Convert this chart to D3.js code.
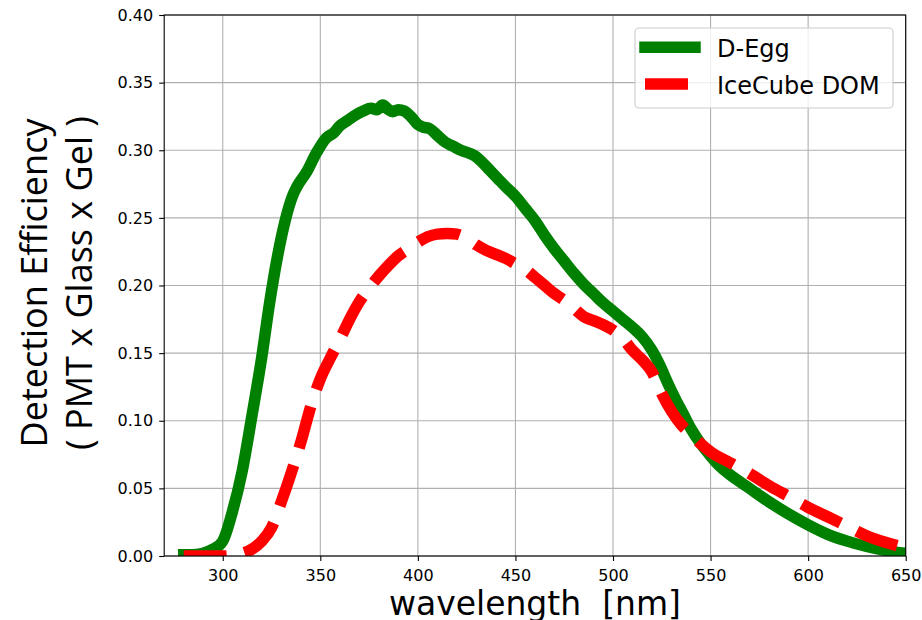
<!DOCTYPE html>
<html>
<head>
<meta charset="utf-8">
<script src="https://cdn.jsdelivr.net/npm/d3@7"></script>
<style>
  html, body { margin: 0; padding: 0; background: #fff; }
  svg { display: block; }
</style>
</head>
<body>
<svg id="chart" width="922" height="620"></svg>
<script>
// ---- data ----
const dEggWavelength = [280,285,290,295,300,305,310,315,320,324,328,332,336,338,343,348,353,357,360,364,368,372,376,379,382,385,387,390,393,397,400,403,406,410,414,418,422,426,429,433,437,441,445,450,455,460,465,470,475,480,485,490,495,500,505,510,515,520,524,528,532,536,540,545,550,555,560,570,580,590,600,610,620,630,640,650];
const dEggEfficiency = [0.001,0.001,0.002,0.005,0.011,0.033,0.063,0.104,0.147,0.187,0.221,0.248,0.267,0.273,0.284,0.298,0.309,0.313,0.318,0.322,0.326,0.329,0.331,0.330,0.3335,0.330,0.3285,0.330,0.329,0.324,0.319,0.317,0.316,0.311,0.306,0.303,0.300,0.298,0.296,0.291,0.285,0.279,0.273,0.266,0.257,0.248,0.237,0.227,0.218,0.209,0.201,0.194,0.187,0.181,0.175,0.169,0.162,0.152,0.141,0.128,0.116,0.105,0.094,0.083,0.074,0.066,0.060,0.050,0.040,0.031,0.023,0.016,0.011,0.007,0.004,0.002];

const domWavelength = [280,290,300,305,310,315,320,325,330,335,340,345,350,355,360,365,370,375,380,385,390,395,400,405,410,415,420,425,430,435,440,445,450,455,460,465,470,475,480,485,490,495,500,505,510,515,520,525,530,535,540,545,550,560,570,580,590,600,610,620,630,640,650];
const domEfficiency = [0,0,0,0.0005,0.002,0.005,0.011,0.021,0.040,0.061,0.084,0.110,0.131,0.146,0.160,0.175,0.188,0.198,0.207,0.215,0.222,0.227,0.232,0.236,0.238,0.2385,0.238,0.235,0.230,0.226,0.223,0.220,0.216,0.212,0.206,0.200,0.194,0.189,0.183,0.177,0.174,0.171,0.167,0.161,0.152,0.145,0.136,0.120,0.107,0.097,0.090,0.083,0.077,0.069,0.061,0.052,0.044,0.036,0.029,0.022,0.015,0.010,0.006];

const seriesNames = ["D-Egg", "IceCube DOM"];
const xTicks = [300,350,400,450,500,550,600,650];
const yTicks = [0,0.05,0.10,0.15,0.20,0.25,0.30,0.35,0.40];
const xDomain = [270, 650];
const yDomain = [0, 0.40];
const xLabel = "wavelength  [nm]";
const yLabelLines = ["Detection Efficiency", "( PMT x Glass x Gel )"];

// ---- layout ----
const L = 164.2, R = 905.7, T = 15, B = 556;
const svg = d3.select("#chart");
const x = d3.scaleLinear().domain(xDomain).range([L, R]);
const y = d3.scaleLinear().domain(yDomain).range([B, T]);
const FONT = "'DejaVu Sans', sans-serif";
const YFONT = "'Open Sans', 'Noto Sans', sans-serif";

// grid
const grid = svg.append("g");
grid.selectAll("line.gx").data(xTicks).join("line")
  .attr("x1", d => x(d)).attr("x2", d => x(d)).attr("y1", T).attr("y2", B)
  .attr("stroke", "#b0b0b0").attr("stroke-width", 1.1);
grid.selectAll("line.gy").data(yTicks).join("line")
  .attr("x1", L).attr("x2", R).attr("y1", d => y(d)).attr("y2", d => y(d))
  .attr("stroke", "#b0b0b0").attr("stroke-width", 1.1);

// clip
svg.append("clipPath").attr("id", "plotclip").append("rect")
  .attr("x", L).attr("y", T).attr("width", R - L).attr("height", B - T);

const line = d3.line().x(d => x(d[0])).y(d => y(d[1])).curve(d3.curveMonotoneX);
const dEgg = d3.zip(dEggWavelength, dEggEfficiency);
const dom = d3.zip(domWavelength, domEfficiency);

const plot = svg.append("g").attr("clip-path", "url(#plotclip)");
plot.append("path").datum(dEgg).attr("d", line)
  .attr("fill", "none").attr("stroke", "#008000").attr("stroke-width", 11.5)
  .attr("stroke-linecap", "square").attr("stroke-linejoin", "round");
plot.append("path").datum(dom).attr("d", line)
  .attr("fill", "none").attr("stroke", "#ff0000").attr("stroke-width", 11.5)
  .attr("stroke-dasharray", "43,18").attr("stroke-linecap", "butt").attr("stroke-linejoin", "round");

// axes
const xAxis = d3.axisBottom(x).tickValues(xTicks).tickFormat(d3.format("d")).tickSize(5).tickPadding(9);
const yAxis = d3.axisLeft(y).tickValues(yTicks).tickFormat(d3.format(".2f")).tickSize(5).tickPadding(6);
const gx = svg.append("g").attr("transform", `translate(0,${B})`).call(xAxis);
const gy = svg.append("g").attr("transform", `translate(${L},0)`).call(yAxis);
[gx, gy].forEach(g => {
  g.select(".domain").remove();
  g.selectAll(".tick line").attr("stroke", "#000").attr("stroke-width", 1.1);
  g.selectAll(".tick text").attr("fill", "#000").style("font-family", FONT).style("font-size", "16px");
});

// frame
svg.append("rect").attr("x", L).attr("y", T).attr("width", R - L).attr("height", B - T)
  .attr("fill", "none").attr("stroke", "#000").attr("stroke-width", 1.1);

// axis labels
svg.append("text").attr("x", (L + R) / 2).attr("y", 615).attr("text-anchor", "middle")
  .style("font-family", FONT).style("font-size", "33px").style("white-space", "pre")
  .attr("xml:space", "preserve").attr("fill", "#000").text(xLabel);
const yl = svg.append("g");
yLabelLines.forEach((t, i) => {
  yl.append("text").attr("transform", `translate(${i === 0 ? 47 : 92},283) rotate(-90)`)
    .attr("text-anchor", "middle").style("font-family", YFONT).style("font-size", "36px")
    .attr("fill", "#000").text(t);
});

// legend
const lg = svg.append("g");
lg.append("rect").attr("x", 635).attr("y", 28).attr("width", 258).attr("height", 80)
  .attr("rx", 4).attr("fill", "#fff").attr("fill-opacity", 0.8).attr("stroke", "#cccccc").attr("stroke-width", 1.1);
const legendItems = [
  { name: seriesNames[0], color: "#008000", dash: null, cap: "square", ly: 47.3, ty: 57 },
  { name: seriesNames[1], color: "#ff0000", dash: "43,18", cap: "butt", ly: 84, ty: 93.5 }
];
legendItems.forEach(it => {
  lg.append("line").attr("x1", 645).attr("x2", 695).attr("y1", it.ly).attr("y2", it.ly)
    .attr("stroke", it.color).attr("stroke-width", 11.5).attr("stroke-linecap", it.cap)
    .attr("stroke-dasharray", it.dash);
  lg.append("text").attr("x", 717).attr("y", it.ty).style("font-family", FONT).style("font-size", "24px")
    .attr("fill", "#000").text(it.name);
});
</script>
</body>
</html>
